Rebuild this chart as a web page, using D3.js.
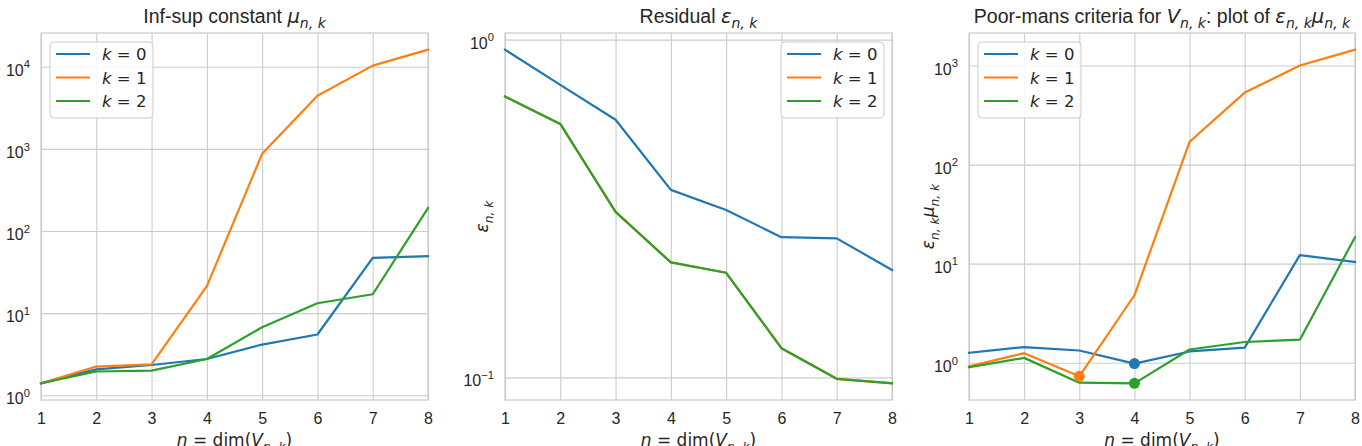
<!DOCTYPE html>
<html>
<head>
<meta charset="utf-8">
<script src="https://cdn.jsdelivr.net/npm/d3@7"></script>
<style>
  html, body { margin: 0; padding: 0; background: #ffffff; }
  svg { display: block; }
</style>
</head>
<body>
<svg id="chart" width="1362" height="446"></svg>
<script>
// ---------------- data ----------------
const nValues = [1, 2, 3, 4, 5, 6, 7, 8];
const seriesLabels = ["0", "1", "2"];
const seriesColors = ["#1f77b4", "#ff7f0e", "#2ca02c"];

// Inf-sup constant mu_{n,k}
const mu_k0 = [1.40, 2.07, 2.34, 2.77, 4.15, 5.5, 47, 49.5];
const mu_k1 = [1.40, 2.24, 2.38, 21.3, 870, 4430, 10300, 16100];
const mu_k2 = [1.40, 1.95, 2.00, 2.77, 6.75, 13.2, 17.0, 190];

// Residual eps_{n,k}
const eps_k0 = [0.934, 0.735, 0.579, 0.359, 0.313, 0.260, 0.258, 0.208];
const eps_k1 = [0.679, 0.563, 0.309, 0.219, 0.204, 0.122, 0.099, 0.096];
const eps_k2 = [0.679, 0.563, 0.309, 0.219, 0.204, 0.122, 0.099, 0.096];

// eps_{n,k} * mu_{n,k}
const prod_k0 = [1.26, 1.44, 1.33, 0.98, 1.30, 1.42, 12.2, 10.4];
const prod_k1 = [0.92, 1.25, 0.73, 4.8, 170, 533, 1000, 1445];
const prod_k2 = [0.90, 1.12, 0.63, 0.62, 1.36, 1.62, 1.71, 18.5];

// highlighted points on third panel (n for each k)
const best_n = [4, 3, 4];

const xTickLabels = ["1", "2", "3", "4", "5", "6", "7", "8"];

// ---------------- layout ----------------
const svg = d3.select("#chart");
const TOP = 33, BOTTOM = 400;
const GRID = "#cccccc", TXT = "#262626";
const SANS = "'Liberation Sans', Arial, sans-serif";
const MATH = "'DejaVu Sans', sans-serif";

function rich(sel, parts, size) {
  // parts: [text, style] style: n (normal text font), m (math upright), i (math italic), sub, sup
  let shift = 0;
  parts.forEach(([t, st]) => {
    const ts = sel.append("tspan").text(t);
    let target = 0;
    let fs = size;
    if (st === "sub") { target = size * 0.3; fs = size * 0.72; }
    if (st === "sup") { target = -size * 0.45; fs = size * 0.7; }
    if (target - shift !== 0) ts.attr("dy", target - shift);
    shift = target;
    ts.attr("font-size", fs);
    if (st === "n" || st === "sup") ts.attr("font-family", SANS);
    else ts.attr("font-family", MATH);
    if (st === "i" || st === "sub") ts.attr("font-style", "italic");
  });
}

function paddedLogDomain(arrays) {
  const all = arrays.flat();
  const lo = Math.log10(d3.min(all)), hi = Math.log10(d3.max(all));
  const m = (hi - lo) * 0.05;
  return [Math.pow(10, lo - m), Math.pow(10, hi + m)];
}

function panel(cfg) {
  const g = svg.append("g");
  const x = d3.scaleLinear().domain([1, 8]).range([cfg.x0, cfg.x1]);
  const y = d3.scaleLog().domain(paddedLogDomain(cfg.series)).range([BOTTOM, TOP]);
  const w = cfg.x1 - cfg.x0, h = BOTTOM - TOP;

  // x grid + labels
  const xa = g.append("g").attr("transform", `translate(0,${BOTTOM})`)
    .call(d3.axisBottom(x).tickValues(nValues).tickSize(-h).tickPadding(0)
      .tickFormat((d, i) => xTickLabels[i]));
  xa.select(".domain").remove();
  xa.selectAll("line").attr("stroke", GRID).attr("stroke-width", 1.1);
  xa.selectAll("text").attr("font-family", SANS).attr("font-size", 16)
    .attr("fill", TXT).attr("y", 23.5).attr("dy", 0);

  // y grid + labels
  const [d0, d1] = y.domain();
  const powers = d3.range(Math.ceil(Math.log10(d0)), Math.floor(Math.log10(d1)) + 1);
  const ya = g.append("g").attr("transform", `translate(${cfg.x0},0)`)
    .call(d3.axisLeft(y).tickValues(powers.map(p => Math.pow(10, p))).tickSize(-w).tickFormat(() => ""));
  ya.select(".domain").remove();
  ya.selectAll("line").attr("stroke", GRID).attr("stroke-width", 1.1);
  ya.selectAll(".tick text").each(function (d) {
    const t = d3.select(this).attr("x", -11).attr("dy", 0).attr("y", 8.5)
      .attr("text-anchor", "end").attr("fill", TXT);
    const p = Math.round(Math.log10(d));
    rich(t, [["10", "n"], [p < 0 ? "\u2212" + (-p) : String(p), "sup"]], 16);
  });

  // frame
  g.append("rect").attr("x", cfg.x0).attr("y", TOP).attr("width", w).attr("height", h)
    .attr("fill", "none").attr("stroke", GRID).attr("stroke-width", 1.25);

  // lines
  const line = d3.line().x((d, i) => x(nValues[i])).y(d => y(d));
  cfg.series.forEach((s, k) => {
    g.append("path").datum(s).attr("d", line).attr("fill", "none")
      .attr("stroke", seriesColors[k]).attr("stroke-width", 2.2)
      .attr("stroke-linejoin", "round").attr("stroke-linecap", "square");
  });

  if (cfg.markers) {
    cfg.series.forEach((s, k) => {
      const n = best_n[k];
      g.append("circle").attr("cx", x(n)).attr("cy", y(s[n - 1])).attr("r", 5.5)
        .attr("fill", seriesColors[k]);
    });
  }

  // title
  const cx = (cfg.x0 + cfg.x1) / 2;
  const tt = g.append("text").attr("x", cx).attr("y", 22.5).attr("text-anchor", "middle").attr("fill", TXT);
  rich(tt, cfg.title, 19.5);

  // x label
  const xl = g.append("text").attr("x", cx).attr("y", 446).attr("text-anchor", "middle").attr("fill", TXT);
  rich(xl, [["n", "i"], [" = ", "m"], ["dim(", "m"], ["V", "i"], ["n, k", "sub"], [")", "m"]], 17);

  // y label
  if (cfg.ylabel) {
    const yl = g.append("text").attr("transform", `translate(${cfg.ylabelX},${(TOP + BOTTOM) / 2}) rotate(-90)`)
      .attr("text-anchor", "middle").attr("fill", TXT);
    rich(yl, cfg.ylabel, 17);
  }

  // legend
  const lg = g.append("g");
  lg.append("rect").attr("x", cfg.legX).attr("y", 42).attr("width", 103).attr("height", 76)
    .attr("rx", 4).attr("fill", "#ffffff").attr("fill-opacity", 0.85)
    .attr("stroke", GRID).attr("stroke-width", 1);
  seriesLabels.forEach((lab, k) => {
    const yy = 54 + k * 23.5;
    lg.append("line").attr("x1", cfg.legX + 6).attr("x2", cfg.legX + 40).attr("y1", yy).attr("y2", yy)
      .attr("stroke", seriesColors[k]).attr("stroke-width", 2.2);
    const t = lg.append("text").attr("x", cfg.legX + 52).attr("y", yy + 6).attr("fill", TXT);
    rich(t, [["k", "i"], [" = " + lab, "m"]], 16.5);
  });
}

panel({
  x0: 41, x1: 428, series: [mu_k0, mu_k1, mu_k2],
  title: [["Inf-sup constant ", "n"], ["\u03bc", "i"], ["n, k", "sub"]],
  legX: 50
});
panel({
  x0: 505, x1: 892, series: [eps_k0, eps_k1, eps_k2],
  title: [["Residual ", "n"], ["\u03b5", "i"], ["n, k", "sub"]],
  ylabel: [["\u03b5", "i"], ["n, k", "sub"]], ylabelX: 488,
  legX: 781
});
panel({
  x0: 969, x1: 1355, series: [prod_k0, prod_k1, prod_k2],
  title: [["Poor-mans criteria for ", "n"], ["V", "i"], ["n, k", "sub"], [": plot of ", "n"],
          ["\u03b5", "i"], ["n, k", "sub"], ["\u03bc", "i"], ["n, k", "sub"]],
  ylabel: [["\u03b5", "i"], ["n, k", "sub"], ["\u03bc", "i"], ["n, k", "sub"]], ylabelX: 934,
  legX: 978, markers: true
});
</script>
</body>
</html>
